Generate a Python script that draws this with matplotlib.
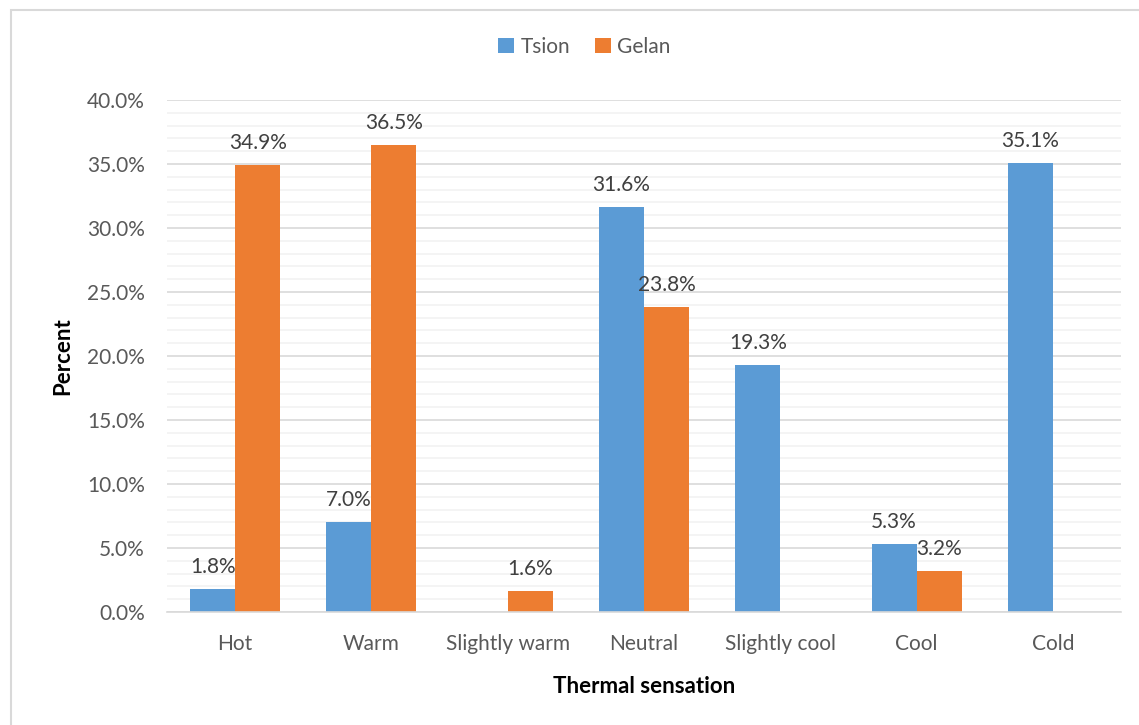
import matplotlib.pyplot as plt
import matplotlib.patches as mpatches
import numpy as np

categories = ['Hot', 'Warm', 'Slightly warm', 'Neutral', 'Slightly cool', 'Cool', 'Cold']
tsion = [1.8, 7.0, 0.0, 31.6, 19.3, 5.3, 35.1]
gelan = [34.9, 36.5, 1.6, 23.8, 0.0, 3.2, 0.0]
yticks = [0, 5, 10, 15, 20, 25, 30, 35, 40]

plt.rcParams['font.family'] = ['Lato', 'DejaVu Sans']

fig = plt.figure(figsize=(11.39, 7.25), dpi=100)
ax = fig.add_axes([0.1466, 0.1559, 0.8376, 0.7062])

# chart border (Excel style)
fig.patches.append(mpatches.Rectangle((11 / 1139, -0.1), 1.2, 1 - 10 / 725 + 0.1,
                                      transform=fig.transFigure, fill=False,
                                      ec='#d9d9d9', lw=1.5))

x = np.arange(len(categories))
w = 0.33
b1 = ax.bar(x - w / 2, tsion, w, color='#5b9bd5', label='Tsion', zorder=3)
b2 = ax.bar(x + w / 2, gelan, w, color='#ed7d31', label='Gelan', zorder=3)

for bars, vals in ((b1, tsion), (b2, gelan)):
    for bar, v in zip(bars, vals):
        if v > 0:
            ax.text(bar.get_x() + bar.get_width() / 2, v + 0.95, f'{v:.1f}%',
                    ha='center', va='bottom', fontsize=15, color='#404040')

ax.set_xlim(-0.5, len(categories) - 0.5)
ax.set_ylim(0, 40)
ax.set_yticks(yticks)
ax.set_yticklabels([f'{t:.1f}%' for t in yticks])
ax.set_yticks(np.arange(0, 41, 1), minor=True)
ax.yaxis.grid(True, which='major', color='#d9d9d9', lw=1.2, zorder=0)
ax.yaxis.grid(True, which='minor', color='#f2f2f2', lw=1.2, zorder=0)
ax.set_xticks(x)
ax.set_xticklabels(categories)
ax.tick_params(axis='both', which='both', length=0, labelsize=15, colors='#595959')
ax.tick_params(axis='x', pad=16)
ax.tick_params(axis='y', pad=16)
for s in ['top', 'right', 'left']:
    ax.spines[s].set_visible(False)
ax.spines['bottom'].set_color('#d9d9d9')
ax.spines['bottom'].set_linewidth(1.2)
ax.spines['bottom'].set_zorder(4)

ax.set_ylabel('Percent', fontsize=16, fontweight='bold', labelpad=10)
ax.set_xlabel('Thermal sensation', fontsize=16, fontweight='bold', labelpad=16)

leg = fig.legend(handles=[b1, b2], loc='center', bbox_to_anchor=(0.513, 1 - 47 / 725),
                 ncol=2, frameon=False, fontsize=15, handlelength=0.75,
                 handleheight=0.75, handletextpad=0.3, columnspacing=1.2)
for t in leg.get_texts():
    t.set_color('#595959')

fig.savefig('out.png', dpi=100)
